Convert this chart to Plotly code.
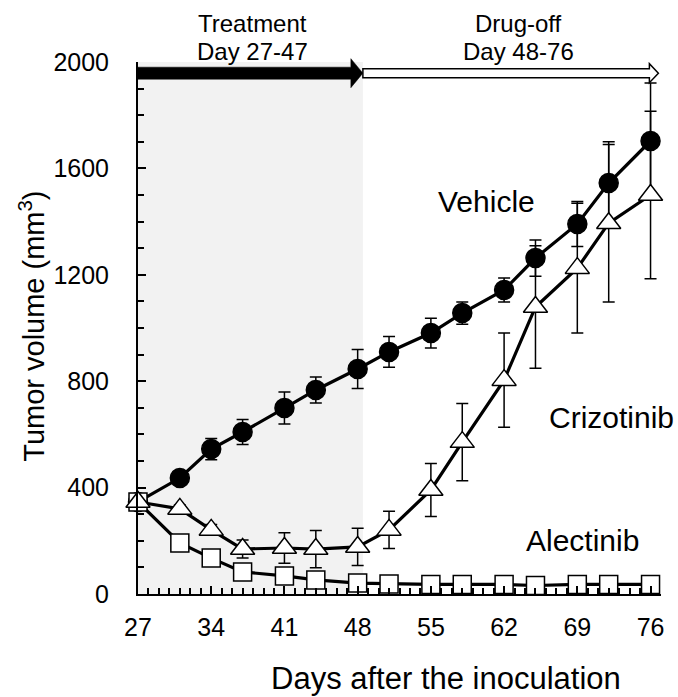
import plotly.graph_objects as go

# ---- data ----
days = [27, 31, 34, 37, 41, 44, 48, 51, 55, 58, 62, 65, 69, 72, 76]

vehicle = [346, 436, 545, 609, 699, 767, 846, 910, 981, 1056, 1143, 1263, 1391, 1545, 1703]
vehicle_err = [0, 25, 40, 47, 60, 49, 73, 58, 56, 42, 45, 68, 85, 155, 218]

crizotinib = [346, 320, 241, 169, 173, 169, 177, 241, 391, 571, 804, 1079, 1225, 1394, 1500]
crizotinib_err = [0, 15, 20, 34, 57, 70, 70, 70, 100, 145, 177, 230, 244, 296, 315]

alectinib = [346, 192, 135, 83, 68, 53, 41, 38, 36, 36, 36, 32, 36, 36, 36]
alectinib_err = [0, 20, 15, 15, 12, 12, 10, 8, 8, 8, 8, 8, 8, 8, 8]

x_ticks = [27, 34, 41, 48, 55, 62, 69, 76]
y_ticks = [0, 400, 800, 1200, 1600, 2000]

treat_start, treat_end, off_end = 27, 48.5, 76.75
arrow_level = 0.979  # fraction of plot height

FONT = "Liberation Sans, Arial, sans-serif"

fig = go.Figure()

def add_series(y, err, symbol, fill, size):
    fig.add_trace(go.Scatter(
        x=days, y=y, mode="lines+markers",
        line=dict(color="black", width=3.2),
        marker=dict(symbol=symbol, size=size, color=fill,
                    line=dict(color="black", width=1.5)),
        error_y=dict(type="data", array=err, visible=True,
                     color="black", thickness=1.5, width=6),
        cliponaxis=False, showlegend=False,
    ))

add_series(vehicle, vehicle_err, "circle", "black", 19)
add_series(alectinib, alectinib_err, "square", "white", 18)
add_series(crizotinib, crizotinib_err, "triangle-up", "white", 21)

shapes = []
# treatment shading
shapes.append(dict(type="rect", xref="x", yref="y", x0=treat_start, x1=treat_end,
                   y0=0, y1=2000, fillcolor="#f2f2f2", line=dict(width=0), layer="below"))

# black arrow (treatment)
yc = arrow_level
sh, hh, hl = 0.0113, 0.0273, 1.15
shapes.append(dict(
    type="path", xref="x", yref="paper",
    path=(f"M{treat_start},{yc-sh} L{treat_end-hl},{yc-sh} L{treat_end-hl},{yc-hh} "
          f"L{treat_end},{yc} L{treat_end-hl},{yc+hh} L{treat_end-hl},{yc+sh} "
          f"L{treat_start},{yc+sh} Z"),
    fillcolor="black", line=dict(color="black", width=0.5), layer="above"))

# white arrow (drug-off)
sw, hw, wl = 0.0085, 0.0179, 0.86
shapes.append(dict(
    type="path", xref="x", yref="paper",
    path=(f"M{treat_end},{yc-sw} L{off_end-wl},{yc-sw} L{off_end-wl},{yc-hw} "
          f"L{off_end},{yc} L{off_end-wl},{yc+hw} L{off_end-wl},{yc+sw} "
          f"L{treat_end},{yc+sw} Z"),
    fillcolor="white", line=dict(color="black", width=1.5), layer="above"))

annotations = [
    dict(text="Treatment", x=37.9, y=1.072, xref="x", yref="paper", showarrow=False,
         font=dict(size=24, family=FONT, color="black"), xanchor="center", yanchor="middle"),
    dict(text="Day 27-47", x=37.9, y=1.02, xref="x", yref="paper", showarrow=False,
         font=dict(size=24, family=FONT, color="black"), xanchor="center", yanchor="middle"),
    dict(text="Drug-off", x=63.4, y=1.072, xref="x", yref="paper", showarrow=False,
         font=dict(size=24, family=FONT, color="black"), xanchor="center", yanchor="middle"),
    dict(text="Day 48-76", x=63.4, y=1.02, xref="x", yref="paper", showarrow=False,
         font=dict(size=24, family=FONT, color="black"), xanchor="center", yanchor="middle"),
    dict(text="Vehicle", x=60.3, y=1474, xref="x", yref="y", showarrow=False,
         font=dict(size=30, family=FONT, color="black"), xanchor="center", yanchor="middle"),
    dict(text="Crizotinib", x=72.3, y=662, xref="x", yref="y", showarrow=False,
         font=dict(size=30, family=FONT, color="black"), xanchor="center", yanchor="middle"),
    dict(text="Alectinib", x=69.5, y=203, xref="x", yref="y", showarrow=False,
         font=dict(size=30, family=FONT, color="black"), xanchor="center", yanchor="middle"),
    dict(text="Days after the inoculation", x=0.588, y=-0.158, xref="paper", yref="paper",
         showarrow=False, xanchor="center", yanchor="middle",
         font=dict(size=31, family=FONT, color="black")),
    dict(text="Tumor volume (mm<sup>3</sup>)", x=-0.202, y=0.503, xref="paper", yref="paper",
         showarrow=False, textangle=-90, xanchor="center", yanchor="middle",
         font=dict(size=29, family=FONT, color="black")),
]

fig.update_layout(
    width=678, height=697,
    margin=dict(l=138, r=16.5, t=62, b=103),
    paper_bgcolor="white", plot_bgcolor="white",
    shapes=shapes, annotations=annotations,
    font=dict(family=FONT, color="black"),
    xaxis=dict(range=[27, 77], tickvals=x_ticks, ticks="inside", ticklen=8, tickwidth=1.5,
               tickcolor="black", showline=True, linecolor="black", linewidth=2,
               showgrid=False, zeroline=False, tickfont=dict(size=25, family=FONT),
               ticklabelstandoff=10,
               minor=dict(dtick=1, ticks="inside", ticklen=6, tickwidth=1.5,
                          tickcolor="black", showgrid=False)),
    yaxis=dict(range=[0, 2000], tickvals=y_ticks, ticks="inside", ticklen=8, tickwidth=1.5,
               tickcolor="black", showline=True, linecolor="black", linewidth=2,
               showgrid=False, zeroline=False, tickfont=dict(size=25, family=FONT),
               ticklabelstandoff=22,
               minor=dict(dtick=100, ticks="inside", ticklen=6, tickwidth=1.5,
                          tickcolor="black", showgrid=False)),
)

fig.write_html("out.html")
